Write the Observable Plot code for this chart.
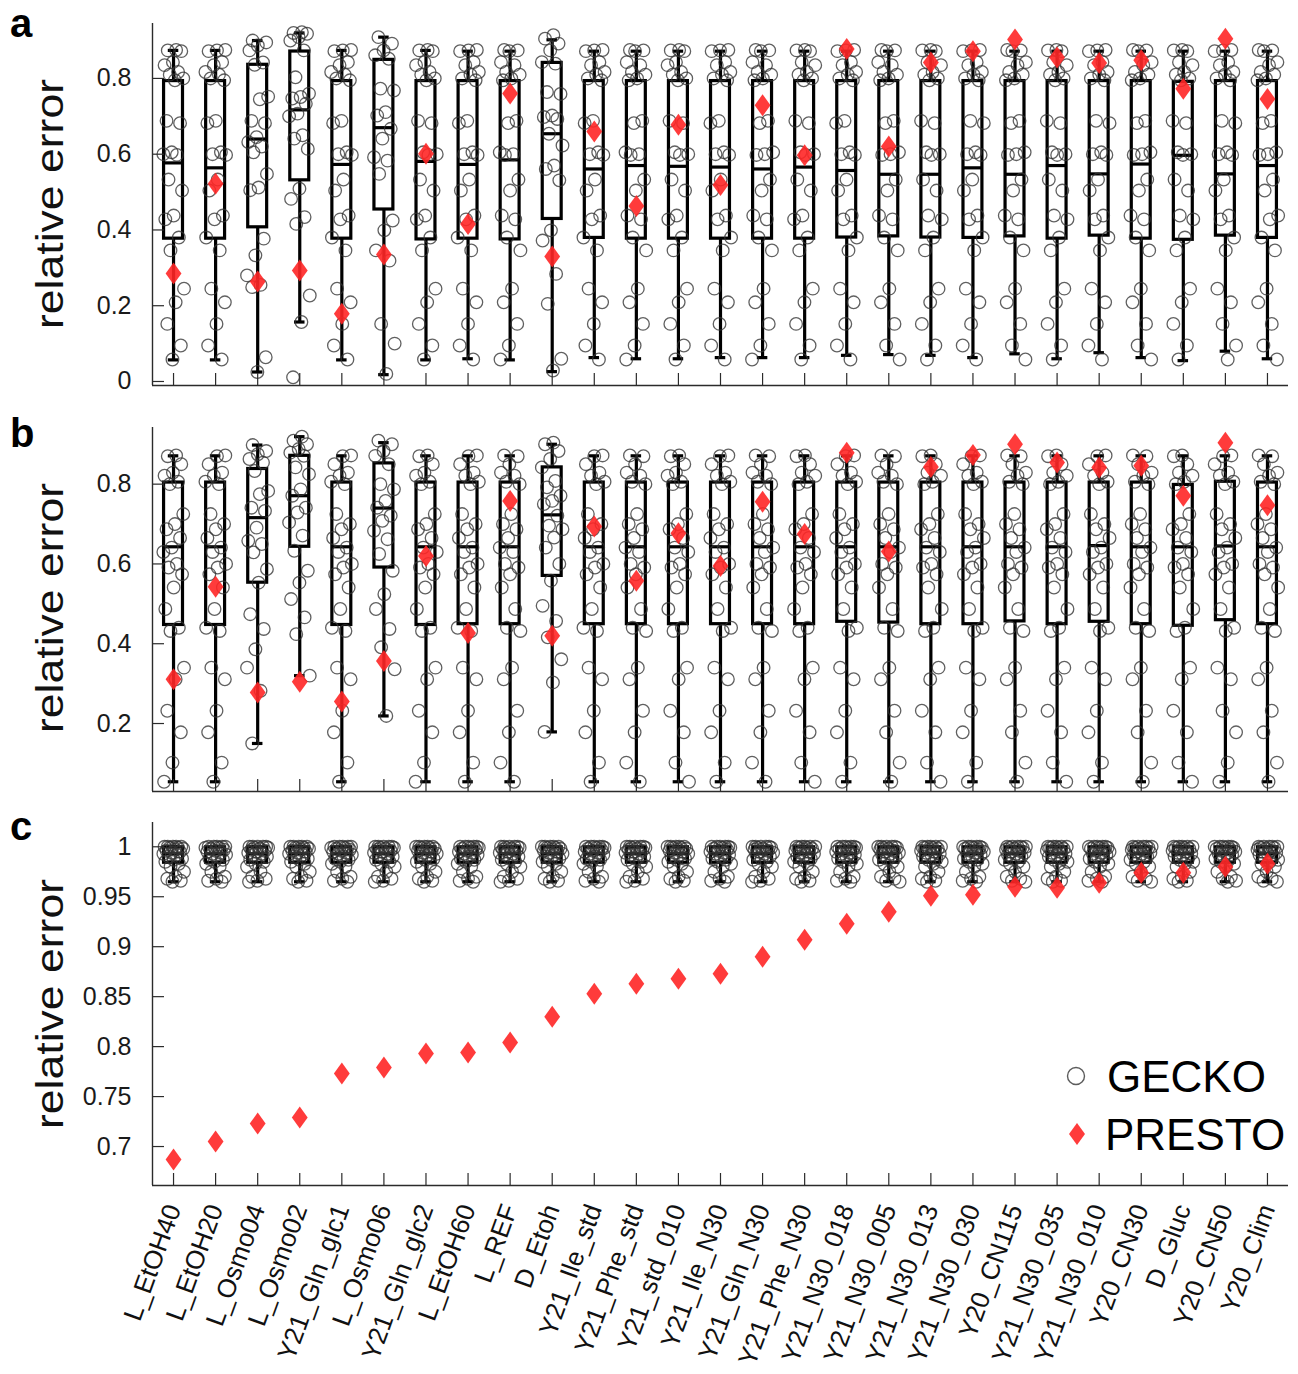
<!DOCTYPE html>
<html><head><meta charset="utf-8">
<script src="https://cdn.jsdelivr.net/npm/d3@7"></script>
<script src="https://cdn.jsdelivr.net/npm/@observablehq/plot@0.6"></script>
<style>
body{margin:0;background:#fff;}
#fig{position:relative;width:1298px;height:1374px;font-family:"Liberation Sans",Arial,Helvetica,sans-serif;background:#fff;overflow:hidden;}
.panel{position:absolute;left:0;}
#overlay{position:absolute;left:0;top:0;pointer-events:none;}
</style></head>
<body>
<div id="fig">
  <div class="panel" id="pa" style="top:0px"></div>
  <div class="panel" id="pb" style="top:400px"></div>
  <div class="panel" id="pc" style="top:805px"></div>
</div>
<script>
// ---------------- DATA ----------------
const categories = ["L_EtOH40","L_EtOH20","L_Osmo04","L_Osmo02","Y21_Gln_glc1","L_Osmo06","Y21_Gln_glc2","L_EtOH60","L_REF","D_Etoh","Y21_Ile_std","Y21_Phe_std","Y21_std_010","Y21_Ile_N30","Y21_Gln_N30","Y21_Phe_N30","Y21_N30_018","Y21_N30_005","Y21_N30_013","Y21_N30_030","Y20_CN115","Y21_N30_035","Y21_N30_010","Y20_CN30","D_Gluc","Y20_CN50","Y20_Clim"];

// panel a – box statistics (GECKO)
const aQ1  = [0.377,0.377,0.407,0.531,0.377,0.454,0.375,0.377,0.375,0.429,0.379,0.377,0.377,0.377,0.377,0.377,0.380,0.383,0.380,0.379,0.383,0.377,0.385,0.377,0.374,0.385,0.379];
const aMed = [0.577,0.564,0.640,0.717,0.573,0.670,0.581,0.573,0.585,0.654,0.561,0.570,0.568,0.566,0.561,0.566,0.557,0.547,0.547,0.564,0.547,0.570,0.548,0.574,0.597,0.548,0.570];
const aQ3  = [0.793,0.793,0.836,0.871,0.793,0.849,0.793,0.793,0.793,0.841,0.793,0.793,0.793,0.793,0.793,0.793,0.793,0.793,0.793,0.793,0.793,0.793,0.793,0.793,0.791,0.793,0.793];
const aLo  = [0.057,0.057,0.025,0.157,0.057,0.018,0.057,0.060,0.057,0.026,0.063,0.060,0.060,0.063,0.063,0.063,0.069,0.071,0.069,0.063,0.073,0.060,0.076,0.063,0.055,0.080,0.060];
const aHi  = [0.874,0.874,0.900,0.920,0.874,0.909,0.874,0.872,0.872,0.902,0.872,0.872,0.872,0.872,0.872,0.872,0.872,0.872,0.872,0.872,0.872,0.872,0.872,0.872,0.872,0.872,0.872];
const aPresto = [0.285,0.522,0.264,0.293,0.179,0.335,0.601,0.416,0.760,0.330,0.660,0.463,0.678,0.519,0.729,0.597,0.878,0.620,0.842,0.872,0.903,0.855,0.841,0.848,0.773,0.905,0.746];

// panel a – GECKO individual values
const aGeckoStd    = [0.875,0.874,0.872,0.843,0.835,0.817,0.810,0.800,0.795,0.688,0.682,0.605,0.600,0.598,0.533,0.504,0.438,0.428,0.380,0.346,0.245,0.209,0.152,0.095,0.058];
const aGeckoOsmo04 = [0.900,0.895,0.887,0.874,0.842,0.836,0.752,0.745,0.688,0.682,0.645,0.632,0.620,0.605,0.548,0.512,0.505,0.377,0.333,0.280,0.255,0.249,0.064,0.025];
const aGeckoOsmo02 = [0.922,0.920,0.918,0.909,0.900,0.874,0.803,0.760,0.751,0.747,0.733,0.707,0.700,0.650,0.641,0.614,0.509,0.482,0.434,0.416,0.227,0.157,0.011];
const aGeckoOsmo06 = [0.909,0.892,0.874,0.861,0.852,0.773,0.768,0.711,0.702,0.667,0.641,0.592,0.583,0.548,0.425,0.399,0.346,0.319,0.152,0.100,0.020];
const aGeckoDEtoh  = [0.914,0.905,0.892,0.874,0.843,0.839,0.764,0.759,0.702,0.698,0.693,0.654,0.623,0.570,0.561,0.531,0.399,0.372,0.284,0.205,0.060,0.029];

// panel b – box statistics (GECKO)
const bQ1  = [0.447,0.447,0.553,0.643,0.447,0.591,0.447,0.449,0.449,0.570,0.449,0.449,0.449,0.449,0.449,0.449,0.455,0.453,0.449,0.449,0.456,0.449,0.455,0.449,0.445,0.459,0.449];
const bMed = [0.643,0.643,0.716,0.771,0.643,0.740,0.643,0.643,0.643,0.723,0.643,0.643,0.643,0.643,0.643,0.643,0.643,0.643,0.643,0.643,0.643,0.643,0.646,0.643,0.643,0.645,0.643];
const bQ3  = [0.804,0.804,0.838,0.871,0.804,0.852,0.804,0.804,0.804,0.842,0.804,0.804,0.804,0.804,0.804,0.804,0.804,0.804,0.804,0.804,0.804,0.804,0.804,0.804,0.798,0.806,0.804];
const bLo  = [0.054,0.054,0.150,0.320,0.054,0.219,0.054,0.054,0.054,0.179,0.054,0.054,0.054,0.054,0.054,0.054,0.054,0.054,0.054,0.054,0.054,0.054,0.054,0.054,0.054,0.054,0.054];
const bHi  = [0.871,0.871,0.898,0.919,0.871,0.904,0.871,0.871,0.871,0.900,0.871,0.871,0.871,0.871,0.871,0.871,0.871,0.871,0.871,0.871,0.871,0.871,0.871,0.871,0.871,0.871,0.871];
const bPresto = [0.311,0.543,0.278,0.305,0.255,0.357,0.620,0.427,0.758,0.420,0.694,0.558,0.677,0.595,0.756,0.675,0.879,0.631,0.843,0.873,0.900,0.854,0.842,0.846,0.771,0.904,0.747];

// panel b – GECKO individual values
const bGeckoStd    = [0.872,0.870,0.850,0.829,0.821,0.806,0.800,0.725,0.700,0.687,0.665,0.641,0.630,0.600,0.591,0.574,0.541,0.487,0.440,0.432,0.340,0.311,0.232,0.178,0.102,0.054];
const bGeckoOsmo04 = [0.898,0.883,0.875,0.863,0.854,0.833,0.783,0.775,0.741,0.733,0.691,0.658,0.650,0.629,0.587,0.553,0.474,0.437,0.386,0.340,0.282,0.150];
const bGeckoOsmo02 = [0.919,0.909,0.900,0.888,0.879,0.871,0.842,0.825,0.787,0.771,0.741,0.729,0.704,0.671,0.633,0.583,0.553,0.512,0.466,0.424,0.320];
const bGeckoOsmo06 = [0.909,0.900,0.883,0.871,0.850,0.800,0.787,0.758,0.741,0.721,0.708,0.683,0.662,0.625,0.583,0.524,0.487,0.437,0.391,0.336,0.219];
const bGeckoDEtoh  = [0.904,0.900,0.883,0.863,0.842,0.808,0.792,0.771,0.758,0.750,0.721,0.696,0.687,0.666,0.641,0.600,0.558,0.495,0.457,0.416,0.361,0.303,0.179];

// panel c – box statistics (GECKO)
const cQ1  = [0.984,0.984,0.984,0.984,0.984,0.984,0.984,0.984,0.984,0.984,0.984,0.984,0.984,0.984,0.984,0.984,0.984,0.984,0.984,0.984,0.984,0.984,0.984,0.984,0.984,0.984,0.984];
const cMed = [0.993,0.993,0.993,0.993,0.993,0.993,0.993,0.993,0.993,0.993,0.993,0.993,0.993,0.993,0.993,0.993,0.993,0.993,0.993,0.993,0.993,0.993,0.993,0.993,0.993,0.993,0.993];
const cQ3  = [0.9995,0.9995,0.9995,0.9995,0.9995,0.9995,0.9995,0.9995,0.9995,0.9995,0.9995,0.9995,0.9995,0.9995,0.9995,0.9995,0.9995,0.9995,0.9995,0.9995,0.9995,0.9995,0.9995,0.9995,0.9995,0.9995,0.9995];
const cLo  = [0.965,0.965,0.965,0.965,0.965,0.965,0.965,0.965,0.965,0.965,0.965,0.965,0.965,0.965,0.965,0.965,0.965,0.965,0.965,0.965,0.965,0.965,0.965,0.965,0.965,0.965,0.965];
const cHi  = [1.0,1.0,1.0,1.0,1.0,1.0,1.0,1.0,1.0,1.0,1.0,1.0,1.0,1.0,1.0,1.0,1.0,1.0,1.0,1.0,1.0,1.0,1.0,1.0,1.0,1.0,1.0];
const cPresto = [0.687,0.705,0.723,0.729,0.773,0.779,0.793,0.794,0.804,0.830,0.853,0.863,0.868,0.873,0.890,0.907,0.923,0.935,0.951,0.952,0.960,0.959,0.964,0.974,0.974,0.980,0.983];
const cGeckoStd = [1.000,1.000,1.000,1.000,1.000,0.999,0.999,0.998,0.997,0.996,0.995,0.994,0.993,0.992,0.990,0.988,0.987,0.985,0.983,0.980,0.975,0.970,0.968,0.966,0.965];

// tick values
const aTicks = [0, 0.2, 0.4, 0.6, 0.8];
const bTicks = [0.2, 0.4, 0.6, 0.8];
const cTicks = [0.7, 0.75, 0.8, 0.85, 0.9, 0.95, 1];

// ---------------- BUILD ----------------
const aSpecial = {L_Osmo04: aGeckoOsmo04, L_Osmo02: aGeckoOsmo02, L_Osmo06: aGeckoOsmo06, D_Etoh: aGeckoDEtoh};
const bSpecial = {L_Osmo04: bGeckoOsmo04, L_Osmo02: bGeckoOsmo02, L_Osmo06: bGeckoOsmo06, D_Etoh: bGeckoDEtoh};

function jitter(i, k) {
  const f = ((i * 7 + k + 1) * 0.6180339887) % 1;
  return (f - 0.5) * 0.52;
}
function geckoRows(std, special) {
  const rows = [];
  categories.forEach((c, i) => {
    const vals = special[c] || std;
    vals.forEach((v, k) => rows.push({x: i + jitter(i, k), v}));
  });
  return rows;
}
function boxRows(q1, med, q3, lo, hi, presto) {
  return categories.map((c, i) => ({i, q1: q1[i], med: med[i], q3: q3[i], lo: lo[i], hi: hi[i], p: presto[i]}));
}

const tallDiamond = {
  draw(ctx, size) {
    const r = Math.sqrt(size / Math.PI);
    const h = r, w = r * 0.72;
    ctx.moveTo(0, -h); ctx.lineTo(w, 0); ctx.lineTo(0, h); ctx.lineTo(-w, 0); ctx.closePath();
  }
};

const fmt = d => String(+d.toFixed(2));
const AX = "#2b2b2b";
const BW = 0.225, CW = 0.125, LW = 3.2;

function panel({boxes, gecko, domain, ticks, height, mt, mb, xlabels}) {
  const idx = categories.map((c, i) => i);
  const marks = [
    Plot.ruleX(boxes, {x: "i", y1: "lo", y2: "q1", stroke: "#000", strokeWidth: LW}),
    Plot.ruleX(boxes, {x: "i", y1: "q3", y2: "hi", stroke: "#000", strokeWidth: LW}),
    Plot.ruleY(boxes, {y: "lo", x1: d => d.i - CW, x2: d => d.i + CW, stroke: "#000", strokeWidth: LW}),
    Plot.ruleY(boxes, {y: "hi", x1: d => d.i - CW, x2: d => d.i + CW, stroke: "#000", strokeWidth: LW}),
    Plot.rect(boxes, {x1: d => d.i - BW, x2: d => d.i + BW, y1: "q1", y2: "q3", fill: "none", stroke: "#000", strokeWidth: LW}),
    Plot.ruleY(boxes, {y: "med", x1: d => d.i - BW, x2: d => d.i + BW, stroke: "#000", strokeWidth: LW}),
    Plot.dot(gecko, {x: "x", y: "v", r: 6.3, stroke: "#333", strokeOpacity: 0.78, strokeWidth: 1.3, fill: "none"}),
    Plot.dot(boxes, {x: "i", y: "p", r: 11, symbol: tallDiamond, fill: "#ff2626", fillOpacity: 0.9, stroke: "none"}),
    Plot.ruleX([-0.5], {stroke: AX, strokeWidth: 1.4}),
    Plot.ruleY([domain[0]], {stroke: AX, strokeWidth: 1.4}),
    Plot.axisY({ticks, tickSize: 12, dx: 12, tickFormat: () => "", stroke: AX, strokeWidth: 1.2, label: null}),
    Plot.axisY({ticks, tickSize: 0, tickPadding: 21, tickFormat: fmt, fill: "#1a1a1a", label: null}),
    Plot.axisX({ticks: idx, tickSize: 12, dy: -12, tickFormat: () => "", stroke: AX, strokeWidth: 1.2, label: null})
  ];
  if (xlabels) {
    marks.push(Plot.axisX({ticks: idx, tickSize: 0, tickPadding: 20, tickRotate: -70, tickFormat: i => categories[i], fill: "#111", fontSize: 26, label: null}));
  }
  return Plot.plot({
    width: 1298, height,
    marginLeft: 152, marginRight: 10, marginTop: mt, marginBottom: mb,
    x: {type: "linear", domain: [-0.5, 26.5], axis: null},
    y: {type: "linear", domain, axis: null},
    style: {fontFamily: '"Liberation Sans", Arial, Helvetica, sans-serif', fontSize: "25px", background: "transparent", overflow: "visible", color: "#000"},
    marks
  });
}

document.getElementById("pa").appendChild(panel({
  boxes: boxRows(aQ1, aMed, aQ3, aLo, aHi, aPresto), gecko: geckoRows(aGeckoStd, aSpecial),
  domain: [-0.0106, 0.945], ticks: aTicks, height: 400, mt: 23, mb: 15
}));
document.getElementById("pb").appendChild(panel({
  boxes: boxRows(bQ1, bMed, bQ3, bLo, bHi, bPresto), gecko: geckoRows(bGeckoStd, bSpecial),
  domain: [0.0296, 0.942], ticks: bTicks, height: 405, mt: 27, mb: 14
}));
document.getElementById("pc").appendChild(panel({
  boxes: boxRows(cQ1, cMed, cQ3, cLo, cHi, cPresto), gecko: geckoRows(cGeckoStd, {}),
  domain: [0.661, 1.0243], ticks: cTicks, height: 569, mt: 17, mb: 189, xlabels: true
}));

// ---------------- OVERLAY: panel letters, y labels, legend ----------------
const NS = "http://www.w3.org/2000/svg";
const ov = document.createElementNS(NS, "svg");
ov.setAttribute("id", "overlay"); ov.setAttribute("width", 1298); ov.setAttribute("height", 1374);
ov.style.fontFamily = '"Liberation Sans", Arial, Helvetica, sans-serif';
function el(tag, attrs, text) {
  const e = document.createElementNS(NS, tag);
  for (const k in attrs) e.setAttribute(k, attrs[k]);
  if (text != null) e.textContent = text;
  ov.appendChild(e); return e;
}
[["a", 37], ["b", 447], ["c", 840]].forEach(([t, y]) =>
  el("text", {x: 10, y, "font-size": 40, "font-weight": "bold", fill: "#000"}, t));
[204, 608, 1004].forEach(cy =>
  el("text", {transform: `translate(63,${cy}) rotate(-90)`, "text-anchor": "middle", "font-size": 39, textLength: 250, lengthAdjust: "spacingAndGlyphs", fill: "#111"}, "relative error"));
// legend
el("circle", {cx: 1076, cy: 1076, r: 8.5, fill: "none", stroke: "#333", "stroke-opacity": 0.8, "stroke-width": 1.4});
el("text", {x: 1107, y: 1092, "font-size": 44, fill: "#000"}, "GECKO");
el("path", {d: "M1077,1123 L1085,1134 L1077,1145 L1069,1134 Z", fill: "#ff2626", "fill-opacity": 0.9});
el("text", {x: 1105, y: 1150, "font-size": 44, fill: "#000"}, "PRESTO");
document.getElementById("fig").appendChild(ov);
</script>
</body></html>
